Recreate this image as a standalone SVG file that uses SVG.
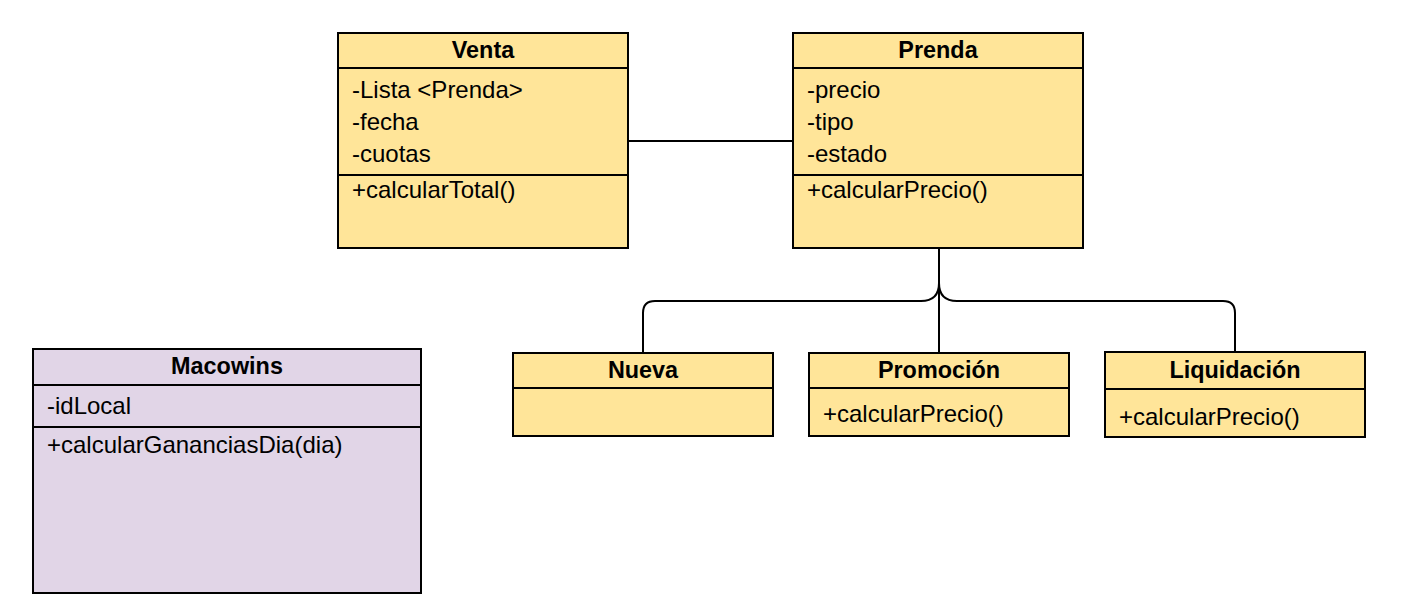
<svg xmlns="http://www.w3.org/2000/svg" width="1410" height="608" viewBox="0 0 1410 608">
<style>
.box{stroke:#000;stroke-width:2}
.y{fill:#FFE599}
.p{fill:#E1D5E7}
.div{stroke:#000;stroke-width:2;fill:none}
.t{font-family:"Liberation Sans",Arial,Helvetica,sans-serif;font-size:24px;fill:#000}
.h{font-family:"Liberation Sans",Arial,Helvetica,sans-serif;font-size:23.4px;font-weight:bold;fill:#000;text-anchor:middle}
.c{stroke:#000;stroke-width:2;fill:none}
</style>
<rect width="1410" height="608" fill="#fff"/>
<g id="connectors">
<path class="c" d="M628,141 H793"/>
<path class="c" d="M939,248 V353"/>
<path class="c" d="M939,248 V283 Q939,301 921,301 H655 Q643,301 643,313 V353"/>
<path class="c" d="M939,283 Q939,301 957,301 H1223 Q1235,301 1235,313 V352"/>
</g>
<g id="venta">
<rect class="box y" x="338" y="33" width="290" height="215"/>
<path class="div" d="M338,68 H628 M338,175 H628"/>
<text class="h" x="483" y="58">Venta</text>
<text class="t" x="352" y="98">-Lista &lt;Prenda&gt;</text>
<text class="t" x="352" y="130">-fecha</text>
<text class="t" x="352" y="162">-cuotas</text>
<text class="t" x="352" y="198">+calcularTotal()</text>
</g>
<g id="prenda">
<rect class="box y" x="793" y="33" width="290" height="215"/>
<path class="div" d="M793,68 H1083 M793,175 H1083"/>
<text class="h" x="938" y="58">Prenda</text>
<text class="t" x="807" y="98">-precio</text>
<text class="t" x="807" y="130">-tipo</text>
<text class="t" x="807" y="162">-estado</text>
<text class="t" x="807" y="198">+calcularPrecio()</text>
</g>
<g id="nueva">
<rect class="box y" x="513" y="353" width="260" height="83"/>
<path class="div" d="M513,388 H773"/>
<text class="h" x="643" y="378">Nueva</text>
</g>
<g id="promocion">
<rect class="box y" x="809" y="353" width="260" height="83"/>
<path class="div" d="M809,388 H1069"/>
<text class="h" x="939" y="378">Promoción</text>
<text class="t" x="823" y="422">+calcularPrecio()</text>
</g>
<g id="liquidacion">
<rect class="box y" x="1105" y="352" width="260" height="85"/>
<path class="div" d="M1105,389 H1365"/>
<text class="h" x="1235" y="378">Liquidación</text>
<text class="t" x="1119" y="425">+calcularPrecio()</text>
</g>
<g id="macowins">
<rect class="box p" x="33" y="349" width="388" height="244"/>
<path class="div" d="M33,385 H421 M33,427 H421"/>
<text class="h" x="227" y="374">Macowins</text>
<text class="t" x="47" y="414">-idLocal</text>
<text class="t" x="47" y="453">+calcularGananciasDia(dia)</text>
</g>
</svg>
